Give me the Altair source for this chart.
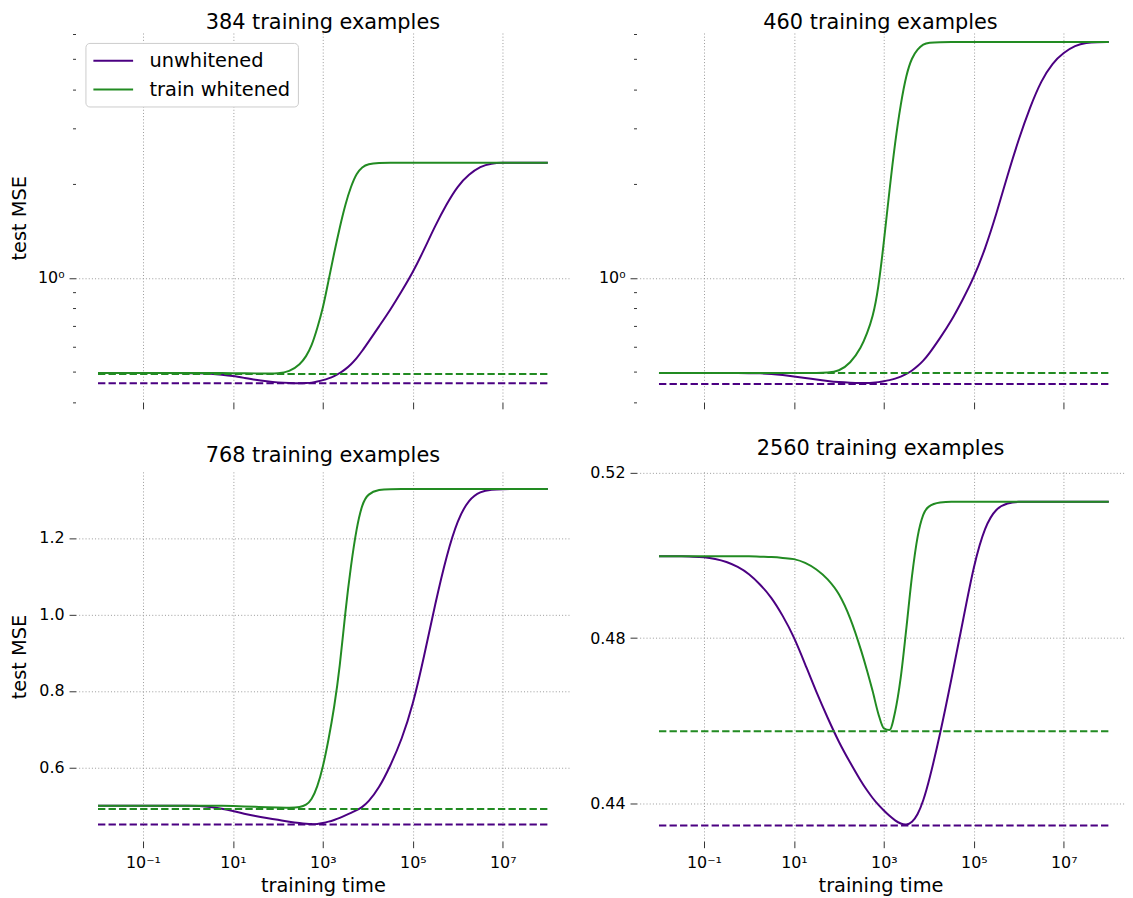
import altair as alt
import pandas as pd

# ---------------- data ----------------
LOG_T = [-2, -1.75, -1.5, -1.25, -1, -0.75, -0.5, -0.25, 0, 0.25, 0.5, 0.75, 1, 1.25, 1.5, 1.75, 2, 2.25, 2.5,
         2.625, 2.75, 2.875, 3, 3.125, 3.25, 3.375, 3.5, 3.625, 3.75, 3.875, 4,
         4.25, 4.5, 4.75, 5, 5.25, 5.5, 5.75, 6, 6.25, 6.5, 6.75, 7, 7.25, 7.5, 7.75, 8]

UNW_384 = [0.496, 0.496, 0.496, 0.496, 0.496, 0.496, 0.496, 0.496, 0.496, 0.4955, 0.494, 0.4905, 0.486,
           0.479, 0.472, 0.467, 0.463, 0.461, 0.460,
           0.461, 0.462, 0.466, 0.471, 0.477, 0.485, 0.496, 0.510, 0.529, 0.553, 0.584, 0.620,
           0.700, 0.790, 0.905, 1.04, 1.23, 1.47, 1.72, 1.97, 2.14, 2.27, 2.32, 2.33, 2.33, 2.33, 2.33, 2.33]
WHT_384 = [0.496, 0.496, 0.496, 0.496, 0.496, 0.496, 0.496, 0.496, 0.496, 0.496, 0.496, 0.496, 0.496,
           0.4955, 0.495, 0.4948, 0.4945, 0.500, 0.530,
           0.560, 0.605, 0.690, 0.796, 0.980, 1.20, 1.45, 1.72, 1.96, 2.16, 2.26, 2.31,
           2.33, 2.33, 2.33, 2.33, 2.33, 2.33, 2.33, 2.33, 2.33, 2.33, 2.33, 2.33, 2.33, 2.33, 2.33, 2.33]

UNW_460 = [0.496, 0.496, 0.496, 0.496, 0.496, 0.496, 0.496, 0.496, 0.496, 0.4955, 0.493, 0.489, 0.484,
           0.479, 0.473, 0.468, 0.464, 0.462, 0.461,
           0.461, 0.462, 0.464, 0.467, 0.471, 0.476, 0.483, 0.493, 0.505, 0.522, 0.543, 0.570,
           0.642, 0.728, 0.850, 1.00, 1.235, 1.596, 2.13, 2.78, 3.51, 4.27, 4.86, 5.24, 5.52, 5.64, 5.66, 5.66]
WHT_460 = [0.496, 0.496, 0.496, 0.496, 0.496, 0.496, 0.496, 0.496, 0.496, 0.496, 0.496, 0.496, 0.496,
           0.496, 0.496, 0.4975, 0.503, 0.531, 0.600,
           0.664, 0.745, 0.915, 1.30, 1.91, 2.72, 3.60, 4.47, 5.06, 5.37, 5.58, 5.64,
           5.66, 5.66, 5.66, 5.66, 5.66, 5.66, 5.66, 5.66, 5.66, 5.66, 5.66, 5.66, 5.66, 5.66, 5.66, 5.66]

UNW_768 = [0.500, 0.500, 0.500, 0.500, 0.500, 0.500, 0.500, 0.500, 0.500, 0.4995, 0.497, 0.492, 0.486,
           0.479, 0.4725, 0.4675, 0.463, 0.458, 0.454,
           0.4525, 0.4515, 0.452, 0.4545, 0.458, 0.4625, 0.468, 0.4745, 0.481, 0.488, 0.4965, 0.508,
           0.546, 0.604, 0.672, 0.762, 0.890, 1.030, 1.155, 1.250, 1.302, 1.322, 1.327, 1.328, 1.328, 1.328, 1.328, 1.328]
WHT_768 = [0.500, 0.500, 0.500, 0.500, 0.500, 0.500, 0.500, 0.500, 0.500, 0.500, 0.500, 0.4995, 0.499,
           0.498, 0.497, 0.496, 0.495, 0.4945, 0.496,
           0.501, 0.515, 0.548, 0.600, 0.672, 0.755, 0.860, 1.010, 1.130, 1.228, 1.290, 1.316,
           1.327, 1.328, 1.328, 1.328, 1.328, 1.328, 1.328, 1.328, 1.328, 1.328, 1.328, 1.328, 1.328, 1.328, 1.328, 1.328]

UNW_2560 = [0.4998, 0.4998, 0.4998, 0.4997, 0.4996, 0.4992, 0.4985, 0.4973, 0.4956, 0.4930, 0.4899, 0.4855, 0.4804,
            0.4737, 0.4669, 0.4607, 0.4548, 0.4499, 0.4452,
            0.4432, 0.4413, 0.4397, 0.4383, 0.4370, 0.4359, 0.4351, 0.4348, 0.4354, 0.4372, 0.4406, 0.4452,
            0.4567, 0.4700, 0.4837, 0.4978, 0.5072, 0.5115, 0.5127, 0.5130, 0.5130, 0.5130, 0.5130, 0.5130,
            0.5130, 0.5130, 0.5130, 0.5130]
WHT_2560 = [0.4998, 0.4998, 0.4998, 0.4998, 0.4998, 0.4998, 0.4998, 0.4998, 0.4998, 0.4997, 0.4996, 0.4994, 0.4991,
            0.4982, 0.4966, 0.4942, 0.4906, 0.4848, 0.4768,
            0.4722, 0.4672, 0.4618, 0.4582, 0.4578, 0.4622, 0.4705, 0.4824, 0.4950, 0.5045, 0.5098, 0.5118,
            0.5128, 0.5130, 0.5130, 0.5130, 0.5130, 0.5130, 0.5130, 0.5130, 0.5130, 0.5130, 0.5130, 0.5130,
            0.5130, 0.5130, 0.5130, 0.5130]

FLOOR_UNW = [0.460, 0.458, 0.451, 0.4347]
FLOOR_WHT = [0.493, 0.496, 0.491, 0.4575]
TITLES = ["384 training examples", "460 training examples", "768 training examples", "2560 training examples"]
SERIES = ["unwhitened", "train whitened"]

TOP_Y_TICKS = [0.4, 0.5, 0.6, 0.7, 0.8, 0.9, 1, 2, 3, 4, 5, 6]
BL_Y_TICKS = [0.6, 0.8, 1.0, 1.2]
BR_Y_TICKS = [0.44, 0.48, 0.52]
X_TICKS = [0.1, 10, 1000, 100000, 10000000]
X_TICK_LABELS = ["10⁻¹", "10¹", "10³", "10⁵", "10⁷"]

for s in (UNW_384, WHT_384, UNW_460, WHT_460, UNW_768, WHT_768, UNW_2560, WHT_2560):
    assert len(s) == len(LOG_T), len(s)

# ---------------- styling ----------------
FONT = "DejaVu Sans"
PURPLE = "#4b0082"
GREEN = "#228b22"
PX_PER_DECADE = 45.3
PLOT_H = 372
X_LO = -2.5
X_HI_LEFT = 8.5
X_HI_RIGHT = 8.35
TITLE_SIZE = 21
LABEL_SIZE = 19.5

TIMES = [10 ** v for v in LOG_T]
T_MIN, T_MAX = TIMES[0], TIMES[-1]

AX = dict(domain=False, grid=True, gridColor="#999999", gridDash=[1, 2.2], gridWidth=1,
          tickColor="#333333", tickWidth=1, labelFont=FONT, labelFontSize=16, labelColor="#000000",
          titleFont=FONT, titleFontSize=LABEL_SIZE, titleFontWeight="normal", titleColor="#000000")

x_expr = "''"
for v, lab in reversed(list(zip(X_TICKS, X_TICK_LABELS))):
    x_expr = f"abs(datum.value - {v}) < {v * 1e-6} ? '{lab}' : ({x_expr})"


def x_axis(bottom):
    if bottom:
        return alt.Axis(values=X_TICKS, labelExpr=x_expr, tickSize=6.5, labelPadding=7,
                        titlePadding=6.5, **AX)
    return alt.Axis(values=X_TICKS, labels=False, tickSize=6.5, **AX)


def y_axis(kind, left):
    ext = 40 if left else 65.5
    common = dict(minExtent=ext, maxExtent=ext, titlePadding=6, labelPadding=5, **AX)
    if kind == "top":
        return alt.Axis(values=TOP_Y_TICKS, labelExpr="datum.value == 1 ? '10⁰' : ''",
                        tickSize={"condition": {"test": "datum.value == 1", "value": 6.5}, "value": 3},
                        gridOpacity={"condition": {"test": "datum.value == 1", "value": 1}, "value": 0},
                        **common)
    if kind == "bl":
        return alt.Axis(values=BL_Y_TICKS, format=".1f", tickSize=6.5, **common)
    return alt.Axis(values=BR_Y_TICKS, format=".2f", tickSize=6.5, **common)


def panel(i, unw, wht, y_scale, kind, left, bottom, legend, title_offset, interp):
    x_hi = X_HI_LEFT if left else X_HI_RIGHT
    width = (x_hi - X_LO) * PX_PER_DECADE
    xs = alt.Scale(type="log", domain=[10 ** X_LO, 10 ** x_hi])
    xa = x_axis(bottom)
    ya = y_axis(kind, left)
    xt = "training time" if bottom else None
    yt = "test MSE" if left else None

    df_u = pd.DataFrame({"t": TIMES, "mse": unw, "series": SERIES[0]})
    df_w = pd.DataFrame({"t": TIMES, "mse": wht, "series": SERIES[1]})
    color = alt.Color("series:N", scale=alt.Scale(domain=SERIES, range=[PURPLE, GREEN]),
                      legend=legend)

    def line(df, ip):
        return alt.Chart(df).mark_line(strokeWidth=2, interpolate=ip).encode(
            x=alt.X("t:Q", scale=xs, axis=xa, title=xt),
            y=alt.Y("mse:Q", scale=y_scale, axis=ya, title=yt),
            color=color,
        )

    def floor(val, col):
        d = pd.DataFrame({"t0": [T_MIN], "t1": [T_MAX], "mse": [val]})
        return alt.Chart(d).mark_rule(color=col, strokeWidth=2, strokeDash=[7.4, 3.2]).encode(
            x=alt.X("t0:Q", scale=xs, axis=xa, title=xt),
            x2="t1:Q",
            y=alt.Y("mse:Q", scale=y_scale, axis=ya, title=yt),
        )

    return alt.layer(
        line(df_u, interp[0]), line(df_w, interp[1]),
        floor(FLOOR_UNW[i], PURPLE), floor(FLOOR_WHT[i], GREEN)
    ).properties(
        width=width, height=PLOT_H,
        title=alt.TitleParams(TITLES[i], font=FONT, fontSize=TITLE_SIZE, fontWeight="normal",
                              color="#000000", offset=title_offset, anchor="middle"),
    )


legend = alt.Legend(orient="top-left", offset=10, title=None, labelFont=FONT, labelFontSize=LABEL_SIZE,
                    labelColor="#000000", symbolType="M-1,0H3", symbolSize=400, symbolStrokeWidth=2,
                    labelOffset=35.5, rowPadding=8, padding=7, cornerRadius=4,
                    strokeColor="#cccccc", fillColor="#ffffff")

SMOOTH = ("basis", "basis")
top_scale = alt.Scale(type="log", domain=[0.4, 6.05])
tl = panel(0, UNW_384, WHT_384, top_scale, "top", True, False, legend, 0.5, SMOOTH)
tr = panel(1, UNW_460, WHT_460, top_scale, "top", False, False, None, 0.5, SMOOTH)
bl = panel(2, UNW_768, WHT_768, alt.Scale(domain=[0.407, 1.373]), "bl", True, True, None, 6, SMOOTH)
br = panel(3, UNW_2560, WHT_2560, alt.Scale(domain=[0.4309, 0.5202]), "br", False, True, None, 6,
           ("basis", "monotone"))

row1 = alt.hconcat(tl, tr, spacing=0).resolve_scale(color="independent")
row2 = alt.hconcat(bl, br, spacing=0).resolve_scale(color="independent")
chart = alt.vconcat(row1, row2, spacing=28).resolve_scale(color="independent").properties(
    padding={"left": 2, "top": 0, "right": 0, "bottom": 0}
).configure_view(strokeWidth=0)

chart.save("out.html", embed_options={"renderer": "svg", "actions": False})
